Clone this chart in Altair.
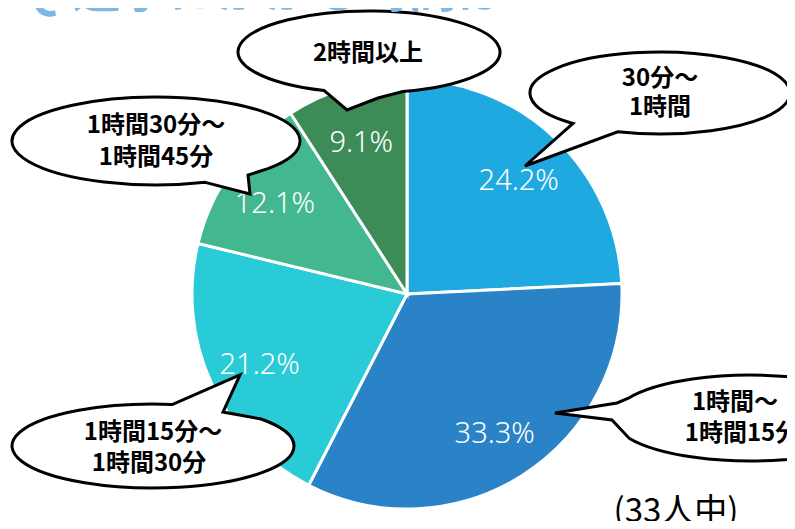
import math
import altair as alt
import pandas as pd

# ---- data ----
categories = ["30分〜1時間", "1時間〜1時間15分", "1時間15分〜1時間30分", "1時間30分〜1時間45分", "2時間以上"]
percents = [24.2, 33.3, 21.2, 12.1, 9.1]
colors = ["#1fa9e1", "#2a83c6", "#29cbd6", "#43b78f", "#3d8b56"]
percent_labels = [f"{p:.1f}%" for p in percents]
callout_lines = [["30分〜", "1時間"], ["1時間〜", "1時間15分"], ["1時間15分〜", "1時間30分"],
                 ["1時間30分〜", "1時間45分"], ["2時間以上"]]
title_text = "Q.通学にかかる時間は？"
note_text = "(33人中)"

# ---- layout (page coordinates, minus 8px page margin) ----
M = 8
W, H = 779, 513
CX, CY, R = 407 - M, 294 - M, 215

bubbles = [
    dict(c=(660, 93), rx=130, ry=41, t1=132, pts=[(525, 166)], t2=109),
    dict(c=(750, 418), rx=137, ry=43, t1=-153, pts=[(617, 403), (555, 413), (612, 420)], t2=152),
    dict(c=(153, 446), rx=141, ry=42, t1=-82, pts=[(240, 375), (223, 412)], t2=-40),
    dict(c=(156, 141), rx=144, ry=44, t1=70, pts=[(250, 194), (248, 175)], t2=39),
    dict(c=(369, 52), rx=131, ry=41, t1=110, pts=[(347, 110), (378, 98)], t2=75),
]
line_pos = [[(660, 79), (660, 108)], [(735, 403), (742, 434)], [(153, 433), (149, 464)],
            [(156, 126), (156, 158)], [(368, 54)]]


def bubble_path(b):
    cx, cy = b["c"]
    rx, ry = b["rx"], b["ry"]

    def on(t):
        a = math.radians(t)
        return rx * math.cos(a), ry * math.sin(a)

    x1, y1 = on(b["t1"])
    x2, y2 = on(b["t2"])
    d = (b["t2"] - b["t1"] + 180) % 360 - 180
    sweep = 1 if d > 0 else 0
    s = f"M{x1:.2f},{y1:.2f}"
    for px, py in b["pts"]:
        s += f" L{px - cx:.2f},{py - cy:.2f}"
    s += f" L{x2:.2f},{y2:.2f} A{rx},{ry} 0 1 {sweep} {x1:.2f},{y1:.2f} Z"
    return s


df = pd.DataFrame({
    "category": categories,
    "percent": percents,
    "label": percent_labels,
    "order": list(range(len(categories))),
})

pie = alt.Chart(df).mark_arc(radius=R, stroke="white", strokeWidth=3).encode(
    theta=alt.Theta("percent:Q", stack=True),
    order=alt.Order("order:Q"),
    color=alt.Color("category:N", scale=alt.Scale(domain=categories, range=colors), legend=None),
    x=alt.value(CX), y=alt.value(CY),
)

pct = alt.Chart(df).mark_text(radius=162, fontSize=29, color="white", font="Noto Sans",
                              fontWeight=300).encode(
    theta=alt.Theta("percent:Q", stack=True),
    order=alt.Order("order:Q"),
    detail="category:N",
    text="label:N",
    x=alt.value(CX), y=alt.value(CY + 4),
)

layers = [pie, pct]
one = pd.DataFrame({"a": [0]})
for b in bubbles:
    layers.append(
        alt.Chart(one).mark_point(shape=bubble_path(b), size=4, filled=True, fill="white",
                                  stroke="black", strokeWidth=3, opacity=1).encode(
            x=alt.value(b["c"][0] - M), y=alt.value(b["c"][1] - M))
    )

rows = []
for lines, poss in zip(callout_lines, line_pos):
    for t, (px, py) in zip(lines, poss):
        rows.append({"t": t, "px": px - M, "py": py - M})
tdf = pd.DataFrame(rows)
layers.append(
    alt.Chart(tdf).mark_text(fontSize=24, fontWeight="bold", font="Noto Sans CJK JP",
                             color="black", baseline="middle").encode(
        x=alt.X("px:Q", scale=None), y=alt.Y("py:Q", scale=None), text="t:N")
)

layers.append(
    alt.Chart(one).mark_text(text=title_text, fontSize=48, fontWeight="bold", font="Noto Sans CJK JP",
                             color="#7cb7e6", align="left", baseline="bottom").encode(
        x=alt.value(20 - M), y=alt.value(17 - M))
)
layers.append(
    alt.Chart(one).mark_text(text=note_text, fontSize=33, font="Noto Sans CJK JP",
                             color="black", align="center", baseline="middle").encode(
        x=alt.value(676 - M), y=alt.value(512 - M))
)

chart = alt.layer(*layers).properties(
    width=W, height=H, padding=0, autosize="none"
).configure_view(stroke=None)

chart.save("out.html", embed_options={"renderer": "svg", "actions": False})
